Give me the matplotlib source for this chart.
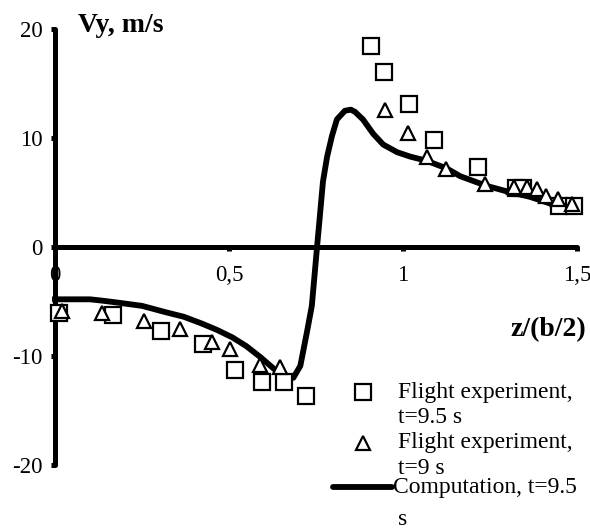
import matplotlib
matplotlib.use("Agg")
import matplotlib.pyplot as plt
from matplotlib.lines import Line2D

# flight experiment, t=9.5 s
sq_z = [0.011, 0.167, 0.305, 0.425, 0.517, 0.595, 0.658, 0.721, 0.908, 0.945, 1.016,
        1.089, 1.216, 1.325, 1.345, 1.448, 1.491]
sq_v = [-6.1, -6.2, -7.7, -8.9, -11.3, -12.4, -12.4, -13.7, 18.4, 16.1, 13.1,
        9.8, 7.3, 5.4, 5.4, 3.8, 3.8]

# flight experiment, t=9 s
tr_z = [0.02, 0.136, 0.256, 0.358, 0.452, 0.504, 0.589, 0.646, 0.948, 1.013, 1.068,
        1.124, 1.236, 1.32, 1.356, 1.385, 1.41, 1.445, 1.486]
tr_v = [-5.9, -6.1, -6.8, -7.5, -8.7, -9.4, -10.8, -11.0, 12.6, 10.5, 8.3,
        7.2, 5.8, 5.5, 5.5, 5.3, 4.7, 4.4, 3.9]

# computation, t=9.5 s
comp_z = [0, 0.05, 0.10, 0.13, 0.18, 0.25, 0.32, 0.37, 0.42, 0.465, 0.51, 0.55, 0.59,
          0.63, 0.665, 0.685, 0.705, 0.724, 0.738, 0.753, 0.761, 0.77, 0.782, 0.796,
          0.81, 0.833, 0.85, 0.862, 0.885, 0.914, 0.943, 0.983, 1.02, 1.069, 1.126,
          1.164, 1.241, 1.299, 1.365, 1.431, 1.489]
comp_v = [-4.8, -4.8, -4.8, -4.9, -5.1, -5.4, -6.0, -6.4, -7.0, -7.6, -8.3, -9.1, -10.1,
          -11.2, -11.8, -12.0, -10.9, -7.8, -5.4, 0.0, 2.8, 6.0, 8.3, 10.2,
          11.7, 12.5, 12.6, 12.4, 11.7, 10.4, 9.4, 8.7, 8.3, 7.9, 7.2,
          6.5, 5.6, 5.1, 4.6, 3.9, 3.5]

x_ticks = [0, 0.5, 1, 1.5]
x_labels = ["0", "0,5", "1", "1,5"]
y_ticks = [-20, -10, 0, 10, 20]
y_labels = ["-20", "-10", "0", "10", "20"]

W, H = 590, 529
plt.rcParams["font.family"] = ["Liberation Serif", "DejaVu Serif"]

fig = plt.figure(figsize=(W / 100, H / 100), dpi=100)
ax = fig.add_axes([55 / W, 1 - 465 / H, 522 / W, 436 / H])


def fx(px):
    return px / W


def fy(py):
    return 1 - py / H


ax.plot(comp_z, comp_v, color="black", lw=4.2, zorder=2, clip_on=False)
ax.plot(sq_z, sq_v, "s", ms=12, mfc="white", mec="black", mew=1.6, zorder=4, clip_on=False)
ax.plot(tr_z, tr_v, "^", ms=10.5, mfc="white", mec="black", mew=1.6, zorder=5, clip_on=False)

ax.set_xlim(0, 1.5)
ax.set_ylim(-20, 20)

for s in ["top", "right"]:
    ax.spines[s].set_visible(False)
ax.spines["bottom"].set_position("zero")
ax.spines["left"].set_linewidth(3.6)
ax.spines["bottom"].set_linewidth(3.6)
ax.spines["left"].set_capstyle("round")
ax.spines["bottom"].set_capstyle("round")

ax.set_xticks(x_ticks)
ax.set_xticklabels(x_labels)
ax.set_yticks(y_ticks)
ax.set_yticklabels(y_labels)
ax.tick_params(axis="both", direction="out", length=3, width=3.6, labelsize=16.5)
ax.tick_params(axis="x", pad=10)
ax.tick_params(axis="y", pad=6)

# axis titles
fig.text(fx(78), fy(32), "Vy, m/s", fontsize=20, fontweight="bold", va="baseline")
fig.text(fx(510), fy(336), "z/(b/2)", fontsize=20, fontweight="bold", va="baseline")

# legend, laid out by hand
fs = 17
fig.add_artist(Line2D([fx(363)], [fy(392)], marker="s", ms=11, mfc="white", mec="black",
                      mew=1.6, ls="none", transform=fig.transFigure))
fig.text(fx(398), fy(398), "Flight experiment,", fontsize=fs, va="baseline")
fig.text(fx(398), fy(423), "t=9.5 s", fontsize=fs, va="baseline")
fig.add_artist(Line2D([fx(363)], [fy(443)], marker="^", ms=10, mfc="white", mec="black",
                      mew=1.6, ls="none", transform=fig.transFigure))
fig.text(fx(398), fy(448), "Flight experiment,", fontsize=fs, va="baseline")
fig.text(fx(398), fy(474), "t=9 s", fontsize=fs, va="baseline")
fig.add_artist(Line2D([fx(333), fx(392)], [fy(487), fy(487)], color="black", lw=4.2,
                      solid_capstyle="round", transform=fig.transFigure))
fig.text(fx(393), fy(493), "Computation, t=9.5", fontsize=fs, va="baseline")
fig.text(fx(398), fy(525), "s", fontsize=fs, va="baseline")

fig.savefig("out.png", dpi=100)
